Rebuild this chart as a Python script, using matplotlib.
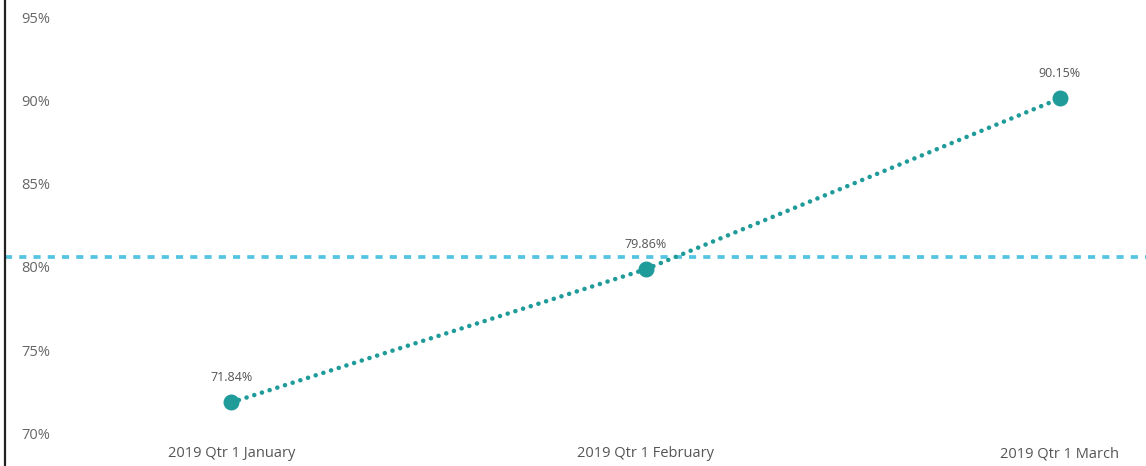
import numpy as np
from matplotlib import pyplot as plt

# dati
mesi = ["2019 Qtr 1 January", "2019 Qtr 1 February", "2019 Qtr 1 March"]
valori = [71.84, 79.86, 90.15]
etichette = ["71.84%", "79.86%", "90.15%"]
tick_y = [70, 75, 80, 85, 90, 95]
media = np.mean(valori)

plt.rcParams['font.family'] = ['Open Sans', 'DejaVu Sans']

fig = plt.figure(figsize=(11.46, 4.66), dpi=100)
ax = fig.add_axes([5/1146, 26/466, 1 - 5/1146, 1 - 26/466])

x = np.arange(len(mesi))

# linea della media (tratteggiata)
ax.axhline(media, color="#55c4e2", lw=2.7, ls=(0, (1.9, 1.9)), zorder=2)

# serie principale
ax.plot(x, valori, color="#1f9b9a", lw=3.3, ls=(0, (0.01, 1.75)),
        dash_capstyle='round', zorder=3)
ax.scatter(x, valori, s=110, color="#1f9b9a", zorder=4)

for xi, v, t in zip(x, valori, etichette):
    ax.annotate(t, (xi, v), xytext=(0, 13), textcoords='offset points',
                ha='center', va='bottom', fontsize=9, color="#555555")

ax.set_xlim((6 - 232)/414, (1146 - 232)/414)
ax.set_ylim(69.58, 96.08)

ax.set_xticks(x)
ax.set_xticklabels(mesi, fontsize=10.5, color="#555555")
ax.set_yticks(tick_y)
ax.set_yticklabels(["{}%".format(t) for t in tick_y], fontsize=10.5, color="#666666")
ax.tick_params(axis='x', length=0, pad=4.5)
ax.tick_params(axis='y', length=0, pad=-12)
for lab in ax.get_yticklabels():
    lab.set_horizontalalignment('left')

for s in ['top', 'right', 'bottom']:
    ax.spines[s].set_visible(False)
ax.spines['left'].set_color('#222222')
ax.spines['left'].set_linewidth(1.6)
ax.spines['left'].set_bounds(69.58 - 5, 96.08)
ax.spines['left'].set_clip_on(False)

fig.savefig('out.png', dpi=100)
